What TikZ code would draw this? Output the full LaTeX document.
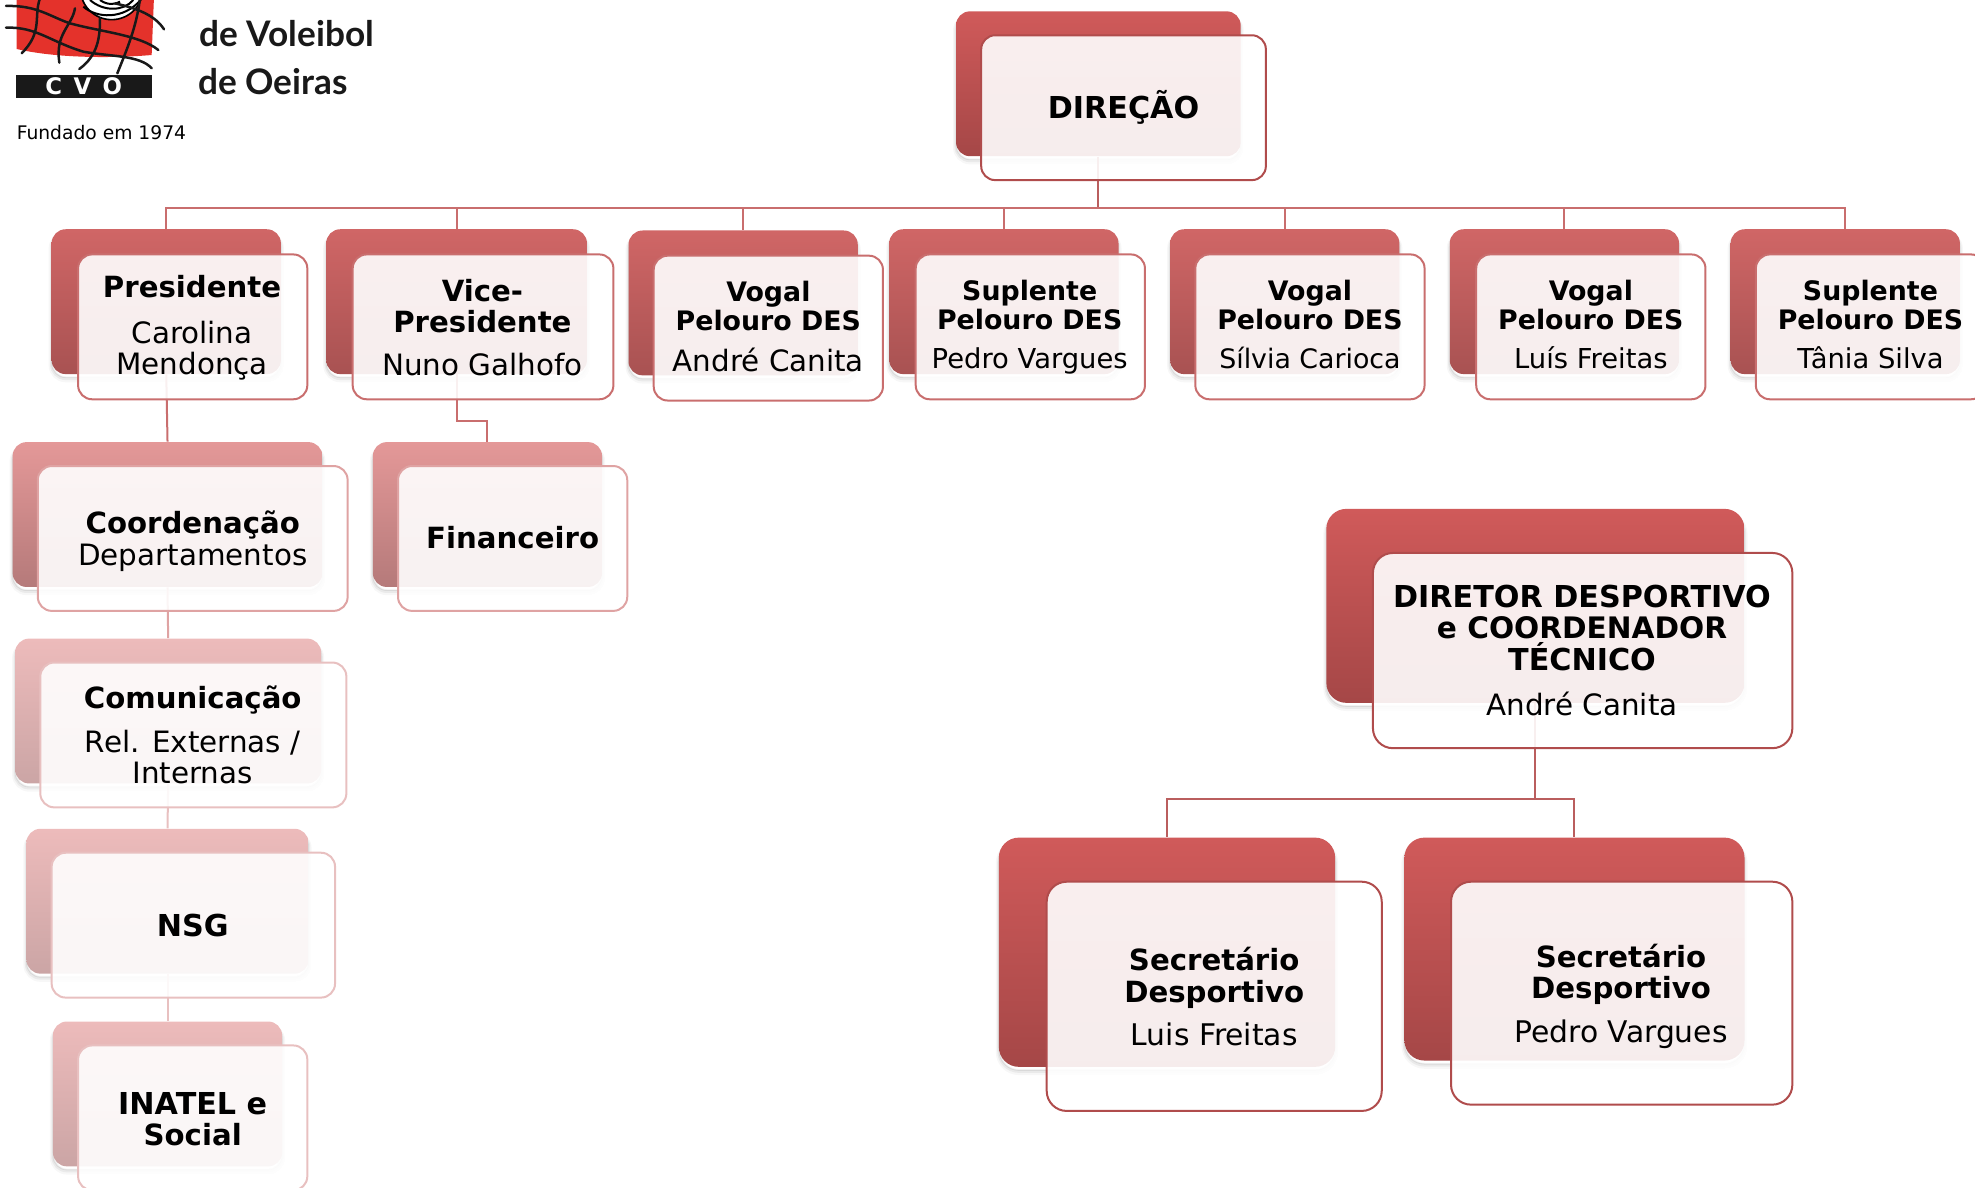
\documentclass[tikz,border=0pt]{standalone}
\usepackage{fontspec}
\setmainfont{DejaVu Sans}
\newfontfamily\logofont{Lato}
\usetikzlibrary{fit}
\definecolor{cA}{HTML}{B04C4C}
\definecolor{cAl}{HTML}{BA5E5E}
\definecolor{cB}{HTML}{C96E6E}
\definecolor{cC}{HTML}{DFA3A3}
\definecolor{cD}{HTML}{E8C0C0}
\definecolor{tAa}{HTML}{D05A5A}
\definecolor{tAb}{HTML}{A54747}
\definecolor{tBa}{HTML}{D06666}
\definecolor{tBb}{HTML}{A85252}
\definecolor{tCa}{HTML}{E49898}
\definecolor{tCb}{HTML}{B57A7A}
\definecolor{tDa}{HTML}{EDBBBB}
\definecolor{tDb}{HTML}{CBA5A5}
\definecolor{logored}{HTML}{E4322B}
\tikzset{
  x=0.6298pt,y=-0.6298pt,
  softshadow/.style={
    preaction={draw=black,draw opacity=.03,line width=3pt,transform canvas={yshift=-2.6pt}},
    preaction={draw=black,draw opacity=.05,line width=1.6pt,transform canvas={yshift=-2.2pt}},
    preaction={draw=black,draw opacity=.07,line width=.4pt,transform canvas={yshift=-1.8pt}}},
  backbox/.style={inner sep=0pt,softshadow,rounded corners=7pt},
  frontbox/.style={inner sep=0pt,fill=white,fill opacity=.9,line width=1pt,rounded corners=7pt},
  big/.style={rounded corners=10pt},
  toneA/.style={top color=tAa,bottom color=tAb},
  toneB/.style={top color=tBa,bottom color=tBb},
  toneC/.style={top color=tCa,bottom color=tCb},
  toneD/.style={top color=tDa,bottom color=tDb},
  link/.style={draw=cB,line width=1pt},
  linkA/.style={draw=cAl,line width=1pt},
  linkC/.style={draw=cC,line width=1pt},
  linkD/.style={draw=cD,line width=1pt},
  lab/.style={align=center,inner sep=0pt,text=black,font=\fontsize{14.7}{15.75}\selectfont},
  labs/.style={align=center,inner sep=0pt,text=black,font=\fontsize{13.7}{14.5}\selectfont},
}
% bold title at the three sizes the picture uses
\newcommand{\hb}[1]{{\fontsize{14.6}{15.75}\selectfont\bfseries #1}}
\newcommand{\hc}[1]{{\fontsize{15.1}{15.75}\selectfont\bfseries #1}}
\newcommand{\hs}[1]{{\fontsize{13.4}{14.5}\selectfont\bfseries #1}}
% back panel: name, x1, y1, w, h, options
\newcommand{\backpanel}[6]{%
  \node[fit={(#2,#3) (#2+#4,#3+#5)},backbox,#6] (#1) {};
}
% front panel: name, x1, y1, w, h, options
\newcommand{\frontpanel}[6]{%
  \node[fit={(#2,#3) (#2+#4,#3+#5)},frontbox,#6] (#1) {};
}
\begin{document}
\begin{tikzpicture}
\clip (0,0) rectangle (1568,942.4);
% back panels
\backpanel{dir}{759}{9}{226}{115}{toneA}
\backpanel{pres}{41}{182}{182}{115}{toneB}
\backpanel{vice}{259}{182}{207}{115}{toneB}
\backpanel{voa}{499}{183}{182}{115}{toneB}
\backpanel{supa}{706}{182}{182}{115}{toneB}
\backpanel{vob}{929}{182}{182}{115}{toneB}
\backpanel{voc}{1151}{182}{182}{115}{toneB}
\backpanel{supb}{1374}{182}{182}{115}{toneB}
\backpanel{coord}{10}{351}{246}{115}{toneC}
\backpanel{fin}{296}{351}{182}{115}{toneC}
\backpanel{com}{12}{507}{243}{115}{toneD}
\backpanel{nsg}{21}{658}{224}{115}{toneD}
\backpanel{ina}{42}{811}{182}{115}{toneD}
\backpanel{dd}{1053}{404}{332}{154}{toneA,big}
\backpanel{seca}{793}{665}{267}{182}{toneA,big}
\backpanel{secb}{1115}{665}{270}{177}{toneA,big}
% connectors
\coordinate (bus) at (dir.south |- 0,165);
\coordinate (busV) at (vice.south |- 0,334);
\coordinate (busB) at (dd.south |- 0,634);
\draw[linkA] (dir.south) -- (bus);
\draw[link] (bus) -| (pres.north);
\foreach \t in {vice,voa,supa,vob,voc,supb}{\draw[link] (bus) -| (\t.north);}
\draw[link] (pres.south) -- (coord.north);
\draw[link] (vice.south) -- (busV) -| (fin.north);
\draw[linkC] (coord.south) -- (com.north);
\draw[linkD] (com.south) -- (nsg.north);
\draw[linkD] (nsg.south) -- (ina.north);
\draw[linkA] (dd.south) -- (busB) -| (seca.north);
\draw[linkA] (busB) -| (secb.north);
% front panels
\frontpanel{fdir}{779}{28}{226}{115}{draw=cA}
\frontpanel{fpres}{62}{202}{182}{115}{draw=cB}
\frontpanel{fvice}{280}{202}{207}{115}{draw=cB}
\frontpanel{fvoa}{519}{203}{182}{115}{draw=cB}
\frontpanel{fsupa}{727}{202}{182}{115}{draw=cB}
\frontpanel{fvob}{949}{202}{182}{115}{draw=cB}
\frontpanel{fvoc}{1172}{202}{182}{115}{draw=cB}
\frontpanel{fsupb}{1394}{202}{182}{115}{draw=cB}
\frontpanel{fcoord}{30}{370}{246}{115}{draw=cC}
\frontpanel{ffin}{316}{370}{182}{115}{draw=cC}
\frontpanel{fcom}{32}{526}{243}{115}{draw=cD}
\frontpanel{fnsg}{41}{677}{225}{115}{draw=cD}
\frontpanel{fina}{62}{830}{182}{115}{draw=cD}
\frontpanel{fdd}{1090}{439}{333}{155}{draw=cA,big}
\frontpanel{fseca}{831}{700}{266}{182}{draw=cA,big}
\frontpanel{fsecb}{1152}{700}{271}{177}{draw=cA,big}
% texts
\node[lab] (tdir) at (892,85) {\hc{DIREÇÃO}};
\node[lab] (tpres) at (152.5,260.5) {\hb{Presidente}\\[7pt]Carolina\\Mendonça};
\node[lab] (tvice) at (383,260) {\hb{Vice-}\\\hb{Presidente}\\[5.5pt]Nuno Galhofo};
\node[labs] (tvoa) at (610,259.5) {\hs{Vogal}\\\hs{Pelouro DES}\\[6pt]{\fontsize{14.7}{15.75}\selectfont André Canita}};
\node[labs] (tsupa) at (817.5,260) {\hs{Suplente}\\\hs{Pelouro DES}\\[5pt]Pedro Vargues};
\node[labs] (tvob) at (1040,258) {\hs{Vogal}\\\hs{Pelouro DES}\\[5pt]{\fontsize{13.4}{14.5}\selectfont Sílvia Carioca}};
\node[labs] (tvoc) at (1263,258) {\hs{Vogal}\\\hs{Pelouro DES}\\[5pt]Luís Freitas};
\node[labs] (tsupb) at (1485,258) {\hs{Suplente}\\\hs{Pelouro DES}\\[5pt]Tânia Silva};
\node[lab] (tcoord) at (153,429.5) {\hb{Coordenação}\\Departamentos};
\node[lab] (tfin) at (407,427) {\hb{Financeiro}};
\node[lab] (tcom) at (153,583.5) {\hb{Comunicação}\\[6pt]Rel. Externas /\\Internas};
\node[lab] (tnsg) at (153,735) {\hc{NSG}};
\node[lab] (tina) at (153,888.5) {\hc{INATEL e}\\\hb{Social}};
\node[lab] (tdd) at (1256,516.5) {\hc{DIRETOR DESPORTIVO}\\{\fontsize{14.8}{15.75}\selectfont\bfseries e COORDENADOR}\\\hc{TÉCNICO}\\[7pt]André Canita};
\node[lab] (tseca) at (964,791.5) {\hb{Secretário}\\\hb{Desportivo}\\[6pt]{\fontsize{14.9}{15.75}\selectfont Luis Freitas}};
\node[lab] (tsecb) at (1287,791) {\hb{Secretário}\\\hb{Desportivo}\\[6pt]{\fontsize{14.9}{15.75}\selectfont Pedro Vargues}};
% logo (scope coordinates: 3 units per reference pixel)
\begin{scope}[x=0.16667pt,y=-0.16667pt]
\fill[logored] (50,-10) -- (462,-10) -- (455,165) .. controls (340,175) and (170,175) .. (50,147) -- cycle;
\fill[white] (335,-35) circle (94);
\draw[black,line width=.8pt] (335,-35) circle (94);
\draw[black,line width=1pt] (250,20) .. controls (290,55) and (370,60) .. (422,0);
\draw[black,line width=1pt] (270,0) .. controls (310,35) and (370,35) .. (400,0);
\draw[black,line width=1pt] (300,0) .. controls (320,15) and (345,15) .. (360,5);
\begin{scope}[line width=1.25pt,line cap=round,draw=black!90]
\draw (18,18) .. controls (110,15) and (150,50) .. (210,70) .. controls (300,95) and (420,105) .. (475,150);
\draw (18,83) .. controls (110,80) and (150,125) .. (250,155) .. controls (330,170) and (420,165) .. (455,205);
\draw (345,10) .. controls (410,25) and (465,45) .. (492,88);
\draw (120,-5) .. controls (100,50) and (130,95) .. (65,160);
\draw (225,25) .. controls (215,80) and (165,100) .. (178,188);
\draw (300,55) .. controls (300,110) and (295,165) .. (238,207);
\draw (420,-5) .. controls (410,80) and (380,150) .. (352,220);
\end{scope}
\fill[black!90] (47,225) rectangle (455,295);
\node[inner sep=0pt,text=white] (cvo) at (251,260) {\fontsize{11.4}{13}\selectfont\textbf{C\hspace{.5em}V\hspace{.5em}O}};
\end{scope}
\node[inner sep=0pt,anchor=west,text=black!90] (l1) at (158,27) {\logofont\fontsize{17.6}{20}\selectfont\bfseries de Voleibol};
\node[inner sep=0pt,anchor=west,text=black!90] (l2) at (157,65) {\logofont\fontsize{17.6}{20}\selectfont\bfseries de Oeiras};
\node[inner sep=0pt,anchor=west,text=black] (fund) at (13,105.5) {\fontsize{9.35}{12}\selectfont Fundado em 1974};
\end{tikzpicture}
\end{document}
